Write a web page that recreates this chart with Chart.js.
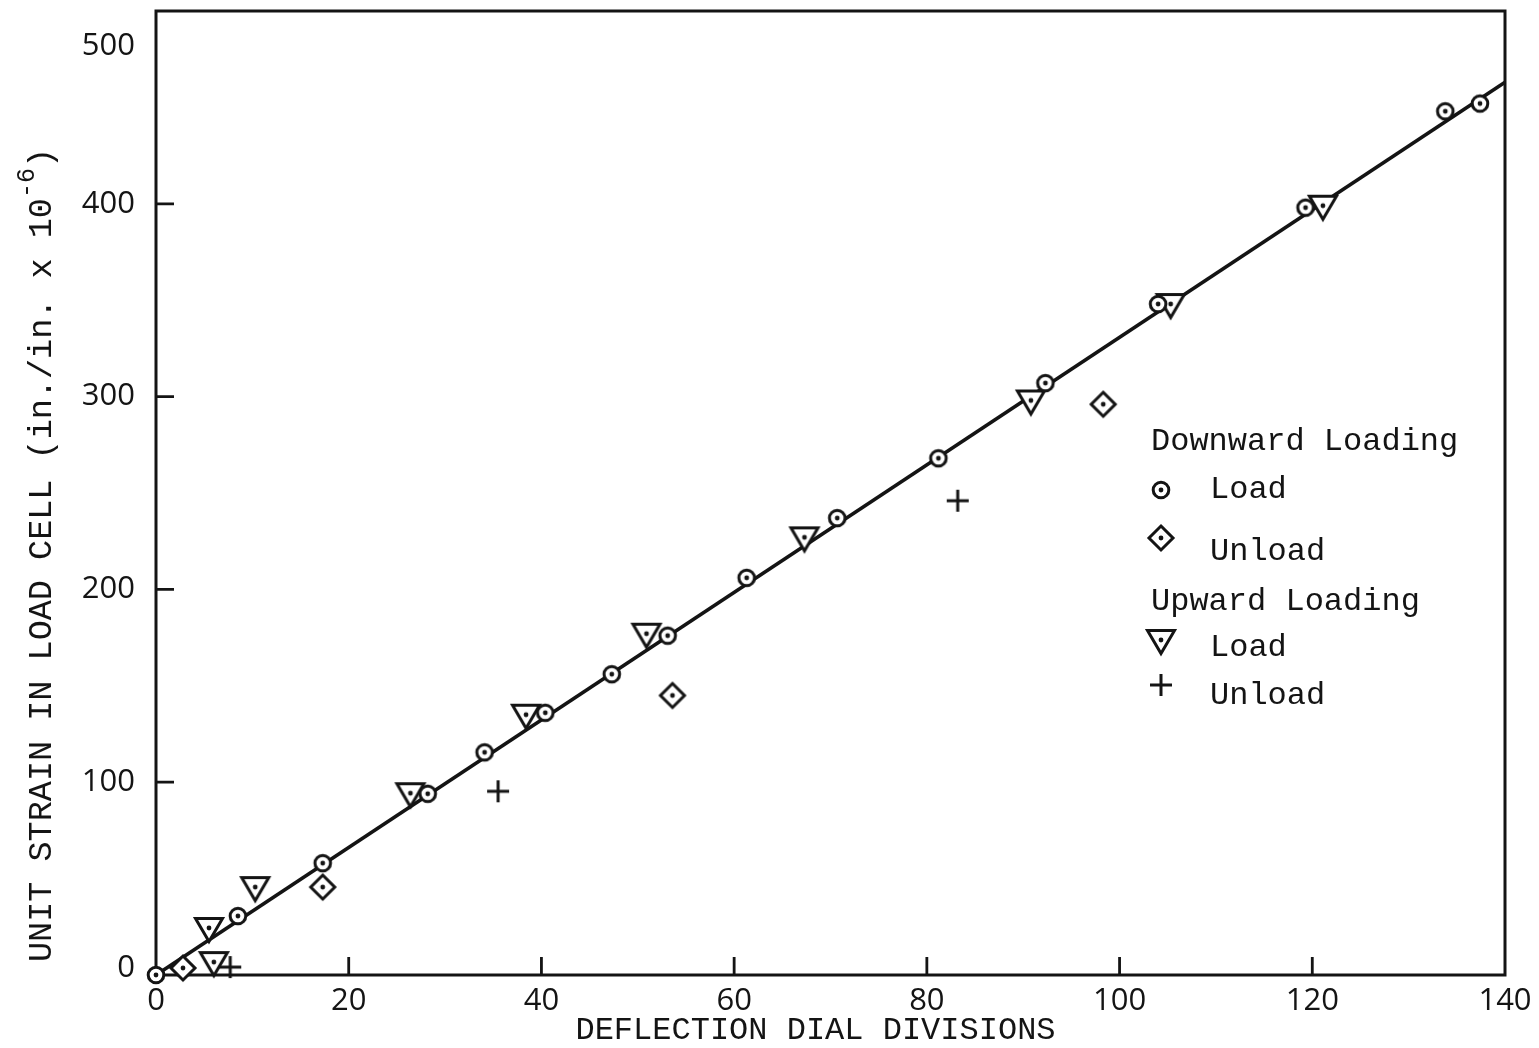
<!DOCTYPE html>
<html>
<head>
<meta charset="utf-8">
<title>Load cell calibration</title>
<script src="https://cdn.jsdelivr.net/npm/chart.js@4.4.1/dist/chart.umd.min.js"></script>
<style>
  html, body { margin: 0; padding: 0; background: #fff; }
  #chart { display: block; }
</style>
</head>
<body>
<canvas id="chart" width="1539" height="1048"></canvas>
<script>
// Deflection dial divisions (x) against unit strain in the load cell (y, in./in. x 10^-6)
const downLoadX = [0, 8.5, 17.3, 28.2, 34.1, 40.4, 47.3, 53.1, 61.3, 70.7, 81.2, 92.3, 104, 119.3, 133.8, 137.4];
const downLoadY = [0, 30.6, 58, 94, 115.5, 136, 156, 176, 206, 237, 268, 307, 348, 398, 448, 452];

const downUnloadX = [2.8, 17.3, 53.6, 98.3];
const downUnloadY = [3.6, 45.6, 145, 296];

const upLoadX = [6.0, 5.5, 10.3, 26.4, 38.4, 50.9, 67.3, 90.8, 105.3, 121.1];
const upLoadY = [6.7, 24.4, 45.6, 94.3, 135, 177, 227, 298, 348, 399];

const upUnloadX = [7.7, 35.5, 83.2];
const upUnloadY = [4.1, 95.3, 246];

// fitted calibration line
const fitX = [0, 140];
const fitY = [0, 463];

const xTickValues = [0, 20, 40, 60, 80, 100, 120, 140];
const yTickValues = [0, 100, 200, 300, 400, 500];

const xTitle = 'DEFLECTION DIAL DIVISIONS';
const yTitle = 'UNIT STRAIN IN LOAD CELL (in./in. x 10';
const yTitleExp = '-6';

const groups = [
    { title: 'Downward Loading', sets: [0, 1] },
    { title: 'Upward Loading', sets: [2, 3] }
];

const INK = '#141414';
const MONO = '"Liberation Mono", monospace';
const SANS = '"Open Sans", sans-serif';

function zip(xs, ys) {
    return xs.map((x, i) => ({ x: x, y: ys[i] }));
}

// hand-drawn style markers, each with a centre dot
function makeMarker(kind) {
    const c = document.createElement('canvas');
    c.width = 40;
    c.height = 40;
    const g = c.getContext('2d');
    const m = 20;
    g.strokeStyle = INK;
    g.fillStyle = '#fff';
    g.lineWidth = 3;
    g.lineJoin = 'miter';
    g.beginPath();
    if (kind === 'circle') {
        g.arc(m, m, 7.8, 0, Math.PI * 2);
    } else if (kind === 'diamond') {
        g.moveTo(m, m - 12);
        g.lineTo(m + 12, m);
        g.lineTo(m, m + 12);
        g.lineTo(m - 12, m);
        g.closePath();
    } else if (kind === 'triangle') {
        g.moveTo(m - 13.5, m - 9.5);
        g.lineTo(m + 13.5, m - 9.5);
        g.lineTo(m, m + 13.5);
        g.closePath();
    } else if (kind === 'plus') {
        g.moveTo(m - 11, m);
        g.lineTo(m + 11, m);
        g.moveTo(m, m - 11);
        g.lineTo(m, m + 11);
    }
    if (kind !== 'plus') g.fill();
    g.stroke();
    if (kind !== 'plus') {
        g.fillStyle = INK;
        g.beginPath();
        g.arc(m, m, 2.4, 0, Math.PI * 2);
        g.fill();
    }
    return c;
}

const markers = {
    circle: makeMarker('circle'),
    diamond: makeMarker('diamond'),
    triangle: makeMarker('triangle'),
    plus: makeMarker('plus')
};

function pointSet(label, xs, ys, style) {
    return {
        label: label,
        data: zip(xs, ys),
        pointStyle: style,
        pointRadius: 10,
        showLine: false,
        clip: false,
        order: 1
    };
}

// frame, inward ticks, labels, titles and the key
const paperPlugin = {
    id: 'paper',
    beforeDatasetsDraw(chart) {
        const { ctx, chartArea: a, scales } = chart;
        ctx.save();
        ctx.strokeStyle = INK;
        ctx.lineWidth = 3;
        ctx.strokeRect(a.left, a.top, a.right - a.left, a.bottom - a.top);

        ctx.lineWidth = 2.8;
        ctx.beginPath();
        xTickValues.slice(1, -1).forEach(v => {
            const px = scales.x.getPixelForValue(v);
            ctx.moveTo(px, a.bottom);
            ctx.lineTo(px, a.bottom - 18);
        });
        yTickValues.slice(1, -1).forEach(v => {
            const py = scales.y.getPixelForValue(v);
            ctx.moveTo(a.left, py);
            ctx.lineTo(a.left + 18, py);
        });
        ctx.stroke();
        ctx.restore();
    },
    afterDraw(chart) {
        const { ctx, chartArea: a, scales } = chart;
        ctx.save();
        ctx.fillStyle = INK;

        // tick labels
        ctx.font = '31px ' + SANS;
        ctx.textBaseline = 'middle';
        ctx.textAlign = 'center';
        xTickValues.forEach(v => {
            ctx.fillText(String(v), scales.x.getPixelForValue(v), a.bottom + 26);
        });
        ctx.textAlign = 'right';
        yTickValues.forEach(v => {
            let py = scales.y.getPixelForValue(v);
            py = Math.min(Math.max(py, a.top + 35), a.bottom - 7);
            ctx.fillText(String(v), a.left - 21, py);
        });

        // axis titles
        ctx.font = '32px ' + MONO;
        ctx.textAlign = 'center';
        ctx.fillText(xTitle, (a.left + a.right) / 2 - 15, a.bottom + 56);

        ctx.save();
        ctx.translate(42, (a.top + a.bottom) / 2 + 62);
        ctx.rotate(-Math.PI / 2);
        const mainFont = '33.5px ' + MONO;
        const expFont = '25px ' + MONO;
        ctx.font = mainFont;
        const wMain = ctx.measureText(yTitle).width;
        const wClose = ctx.measureText(')').width;
        ctx.font = expFont;
        const wExp = ctx.measureText(yTitleExp).width;
        const x0 = -(wMain + wExp + wClose) / 2;
        ctx.textAlign = 'left';
        ctx.font = mainFont;
        ctx.fillText(yTitle, x0, 0);
        ctx.font = expFont;
        ctx.fillText(yTitleExp, x0 + wMain, -15);
        ctx.font = mainFont;
        ctx.fillText(')', x0 + wMain + wExp, 0);
        ctx.restore();

        // key
        const keyX = 1151;
        const rows = [
            { text: groups[0].title, y: 442 },
            { set: 0, y: 490, symY: 490 },
            { set: 1, y: 552, symY: 538 },
            { text: groups[1].title, y: 602 },
            { set: 2, y: 648, symY: 640 },
            { set: 3, y: 696, symY: 685 }
        ];
        ctx.font = '32px ' + MONO;
        ctx.textAlign = 'left';
        rows.forEach(r => {
            if (r.text) {
                ctx.fillText(r.text, keyX, r.y);
            } else {
                const ds = chart.data.datasets[r.set];
                const img = ds.pointStyle;
                ctx.drawImage(img, keyX + 10 - img.width / 2, r.symY - img.height / 2);
                ctx.fillText(ds.label, keyX + 59, r.y);
            }
        });
        ctx.restore();
    }
};

new Chart(document.getElementById('chart'), {
    type: 'scatter',
    data: {
        datasets: [
            pointSet('Load', downLoadX, downLoadY, markers.circle),
            pointSet('Unload', downUnloadX, downUnloadY, markers.diamond),
            pointSet('Load', upLoadX, upLoadY, markers.triangle),
            pointSet('Unload', upUnloadX, upUnloadY, markers.plus),
            {
                label: 'fit',
                data: zip(fitX, fitY),
                showLine: true,
                borderColor: INK,
                borderWidth: 3.6,
                pointRadius: 0,
                fill: false,
                clip: false,
                order: 5
            }
        ]
    },
    options: {
        responsive: false,
        animation: false,
        devicePixelRatio: 1,
        layout: { padding: { top: 10, right: 34, left: 0, bottom: 0 } },
        plugins: {
            legend: { display: false },
            tooltip: { enabled: false }
        },
        scales: {
            x: {
                type: 'linear',
                min: 0,
                max: 140,
                ticks: { display: false, stepSize: 20 },
                grid: { display: false },
                border: { display: false },
                afterFit(scale) { scale.height = 73; }
            },
            y: {
                type: 'linear',
                min: 0,
                max: 500,
                ticks: { display: false, stepSize: 100 },
                grid: { display: false },
                border: { display: false },
                afterFit(scale) { scale.width = 156; }
            }
        }
    },
    plugins: [paperPlugin]
});
</script>
</body>
</html>
